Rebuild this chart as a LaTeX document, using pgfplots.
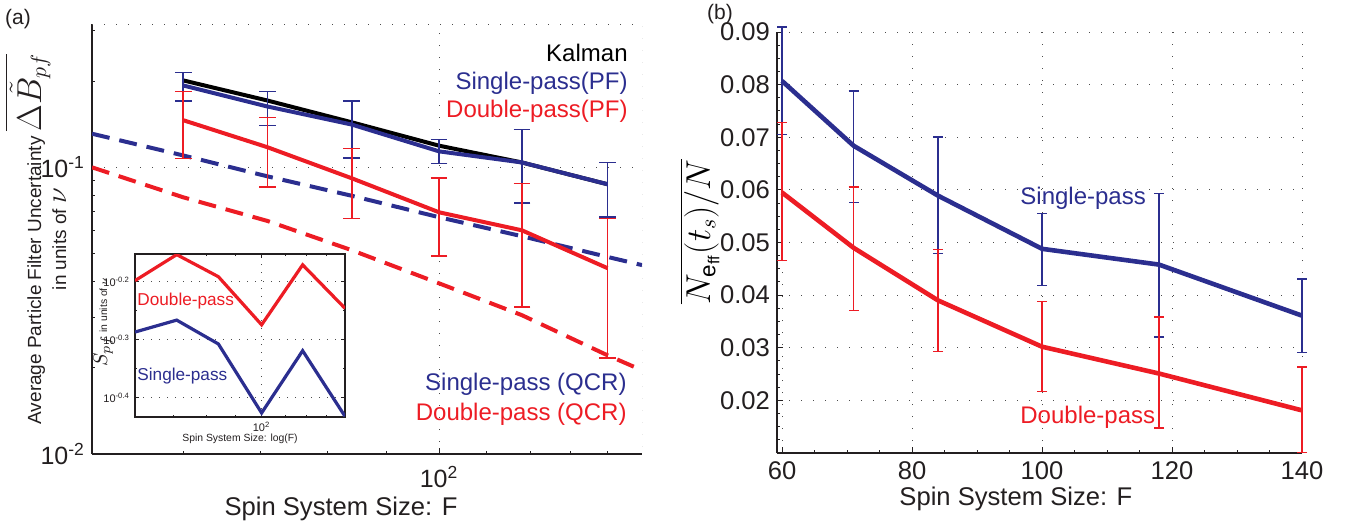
\documentclass[border=0pt]{standalone}
\usepackage{fontspec}
\setmainfont{Liberation Sans}
\usepackage{pgfplots}
\usepackage{pgfplotstable}
\pgfplotsset{compat=1.18}
\definecolor{mblue}{RGB}{43,46,143}
\definecolor{mred}{RGB}{237,28,36}
\definecolor{mtext}{RGB}{35,31,32}

% ---- panel (a) data ----
\pgfplotstableread{
F y
60 0.201
71 0.171
84 0.1436
100 0.119
118 0.104
140 0.0873
}\kalman
\pgfplotstableread{
F y ep em
60 0.193 0.021 0.023
71 0.163 0.021 0.023
84 0.141 0.029 0.033
100 0.1137 0.0113 0.0107
118 0.104 0.0315 0.029
140 0.0873 0.0167 0.0203
}\singlePF
\pgfplotstableread{
F y ep em
60 0.146 0.038 0.0385
71 0.1175 0.0315 0.0322
84 0.0916 0.0249 0.0252
100 0.0697 0.0219 0.0207
118 0.0603 0.0276 0.0278
140 0.0445 0.0219 0.0229
}\doublePF
\pgfplotstableread{
F y
50 0.131
60 0.110
71 0.0930
84 0.0796
100 0.0670
118 0.0575
140 0.0487
150 0.0456
}\singleQCR
\pgfplotstableread{
F y
50 0.100
60 0.0786
71 0.0650
84 0.0514
100 0.0394
118 0.0305
140 0.0221
150 0.0196
}\doubleQCR
% ---- inset data ----
\pgfplotstableread{
F y
60 0.634
71 0.703
84 0.644
100 0.532
118 0.675
140 0.568
}\insetRed
\pgfplotstableread{
F y
60 0.517
71 0.542
84 0.493
100 0.375
118 0.480
140 0.370
}\insetBlue
% ---- panel (b) data ----
\pgfplotstableread{
F y ep em
60 0.0807 0.0103 0.0102
71 0.0684 0.0104 0.0108
84 0.0589 0.0112 0.0110
100 0.0488 0.0067 0.0070
118 0.0458 0.0135 0.0137
140 0.0361 0.0070 0.0070
}\singleN
\pgfplotstableread{
F y ep em
60 0.0595 0.0133 0.0129
71 0.0490 0.0116 0.0119
84 0.0390 0.0097 0.0097
100 0.0302 0.0086 0.0085
118 0.0251 0.0108 0.0104
140 0.0181 0.0082 0.0080
}\doubleN

\tikzset{
  mgrid/.style={black!70, line width=0.5pt, dash pattern=on 0.5pt off 5.5pt},
}

\begin{document}
\begin{tikzpicture}
\path[use as bounding box] (0,0) rectangle (676.5pt,262.5pt);

% ================= panel (a) =================
\begin{axis}[
  at={(46pt,35.5pt)}, anchor=south west, scale only axis,
  width=275pt, height=215pt,
  xmode=log, ymode=log,
  xmin=50, xmax=150, ymin=0.01, ymax=0.31623,
  axis x line*=bottom, axis y line*=left,
  axis line style={-, line width=0.6pt, mtext},
  tick align=inside, major tick length=3pt, minor tick length=1.6pt,
  tick style={mtext, line width=0.5pt},
  xtick={100}, xticklabels={10\textsuperscript{2}},
  minor xtick={60,70,80,90,110,120,130,140},
  ytick={0.01,0.1}, yticklabels={10\textsuperscript{-2},10\textsuperscript{-1}},
  minor ytick={0.02,0.03,0.04,0.05,0.06,0.07,0.08,0.09,0.2,0.3},
  xmajorgrids, ymajorgrids, major grid style={mgrid},
  ticklabel style={font=\fontsize{12.5}{14}\selectfont, text=mtext},
  xticklabel style={yshift=-2.5pt},
  xlabel={Spin System Size: F},
  xlabel style={at={(axis description cs:0.4527,-0.144)}, anchor=base, font=\fontsize{12.8}{15}\selectfont, text=mtext},
  ylabel={Average Particle Filter Uncertainty {\fontsize{16}{18}\selectfont$\overline{\Delta\tilde{B}_{pf}}$}\\in units of {\fontsize{14}{16}\selectfont$\nu$}},
  ylabel style={at={(axis description cs:-0.1018,0.5)}, anchor=center, align=center, font=\fontsize{9.5}{11.5}\selectfont, text=mtext},
]
\draw[mgrid] (rel axis cs:0,1) -- (rel axis cs:1,1) -- (rel axis cs:1,0);
\addplot[mblue, line width=2pt, dash pattern=on 9pt off 5pt] table[x=F,y=y] {\singleQCR};
\addplot[mred, line width=2pt, dash pattern=on 9pt off 5pt] table[x=F,y=y] {\doubleQCR};
\addplot[black, line width=2pt] table[x=F,y=y] {\kalman};
\addplot[mblue, line width=2pt,
  error bars/.cd, y dir=both, y explicit,
  error bar style={line width=0.8pt, solid},
  error mark options={rotate=90, mark size=4.2pt, line width=0.8pt, mblue}]
  table[x=F, y=y, y error plus=ep, y error minus=em] {\singlePF};
\addplot[mred, line width=2pt,
  error bars/.cd, y dir=both, y explicit,
  error bar style={line width=0.8pt, solid},
  error mark options={rotate=90, mark size=4.2pt, line width=0.8pt, mred}]
  table[x=F, y=y, y error plus=ep, y error minus=em] {\doublePF};
\end{axis}

% ================= inset =================
\begin{axis}[
  at={(67.5pt,54pt)}, anchor=south west, scale only axis,
  width=105pt, height=81.5pt,
  xmode=log, ymode=log,
  xmin=60, xmax=140, ymin=0.369, ymax=0.7047,
  axis background/.style={fill=white},
  axis line style={line width=0.6pt, mtext},
  tick align=inside, major tick length=2pt, minor tick length=1pt,
  tick style={mtext, line width=0.4pt},
  xtick={100}, xticklabels={10\textsuperscript{2}},
  minor xtick={70,80,90,110,120,130},
  ytick={0.39811,0.50119,0.63096},
  yticklabels={10\textsuperscript{-0.4},10\textsuperscript{-0.3},10\textsuperscript{-0.2}},
  minor ytick={0.44668,0.56234},
  xmajorgrids, ymajorgrids, major grid style={black!70, line width=0.4pt, dash pattern=on 0.4pt off 3.6pt},
  ticklabel style={font=\fontsize{5.5}{6}\selectfont, text=mtext},
  xticklabel style={yshift=1pt},
  yticklabel style={xshift=1pt},
  xlabel={Spin System Size: log(F)},
  xlabel style={at={(axis description cs:0.5,-0.135)}, anchor=center, font=\fontsize{5.2}{6}\selectfont, text=mtext},
  ylabel={{\fontsize{10}{12}\selectfont$S_{pf}$}\ {\fontsize{5.2}{6}\selectfont in units of $\nu$}},
  ylabel style={at={(axis description cs:-0.152,0.583)}, anchor=center, font=\fontsize{5.2}{6}\selectfont, text=mtext},
]
\addplot[mred, line width=1.6pt] table[x=F,y=y] {\insetRed};
\addplot[mblue, line width=1.6pt] table[x=F,y=y] {\insetBlue};
\end{axis}

% ================= panel (b) =================
\begin{axis}[
  at={(388.5pt,36pt)}, anchor=south west, scale only axis,
  width=262.5pt, height=210.5pt,
  xmin=59.23, xmax=140, ymin=0.01, ymax=0.09,
  clip=false, scaled y ticks=false, scaled x ticks=false,
  axis x line*=bottom, axis y line*=left,
  axis line style={-, line width=0.6pt, mtext},
  tick align=inside, major tick length=3pt, minor tick length=1.6pt,
  tick style={mtext, line width=0.5pt},
  xtick={60,80,100,120,140},
  xticklabels={60,80,100,120,140},
  ytick={0.02,0.03,0.04,0.05,0.06,0.07,0.08,0.09},
  yticklabels={0.02,0.03,0.04,0.05,0.06,0.07,0.08,0.09},
  minor xtick={65,70,75,85,90,95,105,110,115,125,130,135},
  minor ytick={0.0125,0.015,0.0175,0.0225,0.025,0.0275,0.0325,0.035,0.0375,0.0425,0.045,0.0475,0.0525,0.055,0.0575,0.0625,0.065,0.0675,0.0725,0.075,0.0775,0.0825,0.085,0.0875},
  xmajorgrids, ymajorgrids, major grid style={mgrid},
  ticklabel style={font=\fontsize{12.8}{15}\selectfont, text=mtext},
  xticklabel style={yshift=-1pt},
  xlabel={Spin System Size: F},
  xlabel style={at={(axis description cs:0.455,-0.1235)}, anchor=base, font=\fontsize{12.8}{15}\selectfont, text=mtext},
  ylabel={$\overline{N_{\mathrm{e}_{\mathrm{ff}}}(t_s)\big/N}$},
  ylabel style={at={(axis description cs:-0.147,0.525)}, anchor=center, font=\fontsize{16}{19}\selectfont, text=black},
]
\addplot[mblue, line width=2.3pt,
  error bars/.cd, y dir=both, y explicit,
  error bar style={line width=0.8pt, solid},
  error mark options={rotate=90, mark size=2.5pt, line width=0.8pt, mblue}]
  table[x=F, y=y, y error plus=ep, y error minus=em] {\singleN};
\addplot[mred, line width=2.3pt,
  error bars/.cd, y dir=both, y explicit,
  error bar style={line width=0.8pt, solid},
  error mark options={rotate=90, mark size=2.5pt, line width=0.8pt, mred}]
  table[x=F, y=y, y error plus=ep, y error minus=em] {\doubleN};
\end{axis}

% ================= text annotations =================
\begin{scope}[every node/.style={inner sep=0pt, font=\fontsize{12}{14}\selectfont}]
\node[anchor=base east, text=black] at (314pt,231.5pt) {Kalman};
\node[anchor=base east, text=mblue] at (314pt,217.5pt) {Single-pass(PF)};
\node[anchor=base east, text=mred] at (314pt,203.5pt) {Double-pass(PF)};
\node[anchor=base east, text=mblue] at (313.5pt,67.5pt) {Single-pass (QCR)};
\node[anchor=base east, text=mred] at (313.5pt,52.5pt) {Double-pass (QCR)};
\node[anchor=base west, text=mblue] at (510pt,160pt) {Single-pass};
\node[anchor=base west, text=mred] at (510pt,51pt) {Double-pass};
\node[anchor=base west, text=mred, font=\fontsize{8.6}{10}\selectfont] at (68.5pt,110pt) {Double-pass};
\node[anchor=base west, text=mblue, font=\fontsize{8.6}{10}\selectfont] at (68.5pt,72.5pt) {Single-pass};
\node[anchor=center, text=mtext, font=\fontsize{10.5}{12}\selectfont] at (9pt,253pt) {(a)};
\node[anchor=center, text=mtext, font=\fontsize{10.5}{12}\selectfont] at (360pt,255.5pt) {(b)};
\end{scope}
\end{tikzpicture}
\end{document}
